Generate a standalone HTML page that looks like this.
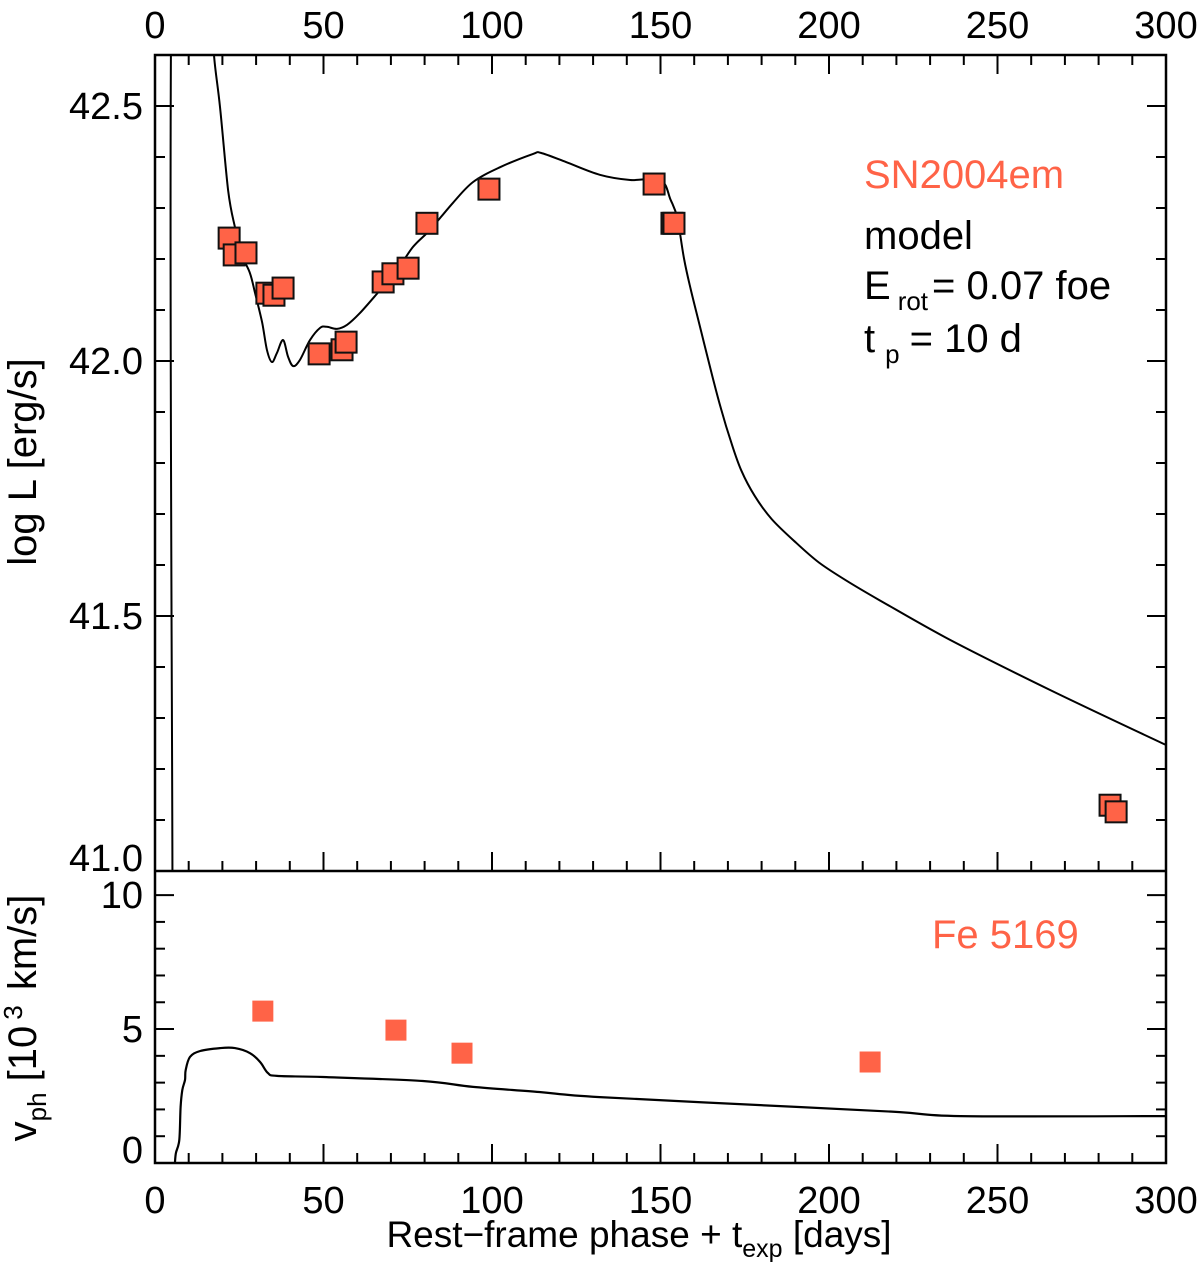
<!DOCTYPE html>
<html><head><meta charset="utf-8">
<style>
html,body{margin:0;padding:0;background:#fff;}
svg{display:block;font-family:"Liberation Sans",Arial,sans-serif;}
</style></head>
<body>
<svg id="chart" width="1200" height="1277" viewBox="0 0 1200 1277" xmlns="http://www.w3.org/2000/svg"></svg>
<script>
// ---- data ----
const lumModelDays = [5.2,5.6,17.0,17.5,19.3,21.7,23.7,26.1,28.2,29.7,31.8,33.2,34.7,36.2,38.0,39.5,41.0,43.0,46.0,49.0,51.0,54.0,57.0,60.8,66.8,71.8,76.6,81.6,88.4,94.4,102.4,112.2,114.5,122,132,141,150,153,155,157,159,162,165,168,171,174,178,183,190,197,205,215,236,265.6,300];
const lumModelLogL = [40.9,43.0,42.7,42.6,42.498,42.335,42.263,42.204,42.172,42.133,42.075,42.022,41.998,42.016,42.041,42.008,41.99,42.002,42.041,42.065,42.067,42.063,42.071,42.094,42.139,42.178,42.224,42.257,42.31,42.351,42.38,42.406,42.408,42.39,42.365,42.355,42.355,42.316,42.28,42.2,42.14,42.06,41.98,41.905,41.84,41.785,41.735,41.69,41.645,41.605,41.57,41.531,41.453,41.355,41.247];
const lumObsDays = [22.0,23.5,27.0,33.2,35.3,38.0,48.7,55.5,56.7,67.7,70.6,75.1,80.7,99.1,148.1,153.4,154.0,283.4,285.2];
const lumObsLogL = [42.241,42.208,42.212,42.133,42.129,42.143,42.014,42.022,42.037,42.155,42.171,42.182,42.27,42.337,42.347,42.27,42.27,41.129,41.116];
const velModelDays = [5.9,6.2,7.2,7.6,8.1,8.9,9.1,10.4,13.4,19.3,23.7,28.2,31.2,33.5,36.2,49.9,79.5,94.4,114,132,191,221,239,300];
const velModelV = [0,0.37,0.86,2.09,2.72,3.1,3.47,3.96,4.18,4.29,4.29,4.1,3.77,3.36,3.25,3.21,3.06,2.84,2.65,2.46,2.09,1.90,1.75,1.75];
const velObsDays = [32.0,71.5,91.1,212.2];
const velObsV = [5.67,4.96,4.10,3.77];
const xTicks = [0,50,100,150,200,250,300];
const lumTicks = [41.0,41.5,42.0,42.5];
const velTicks = [0,5,10];

// ---- layout ----
const X0=155, X1=1166, TOP=55, MID=871, BOT=1163;
const xS = d => X0 + (d-0)/(300-0)*(X1-X0);
const yL = v => MID - (v-41.0)/(42.6-41.0)*(MID-TOP);
const yV = v => BOT - (v-0)/(10.9-0)*(BOT-MID);
const NS='http://www.w3.org/2000/svg';
const svg=document.getElementById('chart');
function mk(tag,attrs,parent){const e=document.createElementNS(NS,tag);for(const k in attrs)e.setAttribute(k,attrs[k]);(parent||svg).appendChild(e);return e;}
function smooth(pts){
  let d='M'+pts[0][0].toFixed(1)+' '+pts[0][1].toFixed(1);
  for(let i=0;i<pts.length-1;i++){
    const p0=pts[Math.max(i-1,0)],p1=pts[i],p2=pts[i+1],p3=pts[Math.min(i+2,pts.length-1)];
    const c1x=p1[0]+(p2[0]-p0[0])/6,c1y=p1[1]+(p2[1]-p0[1])/6;
    const c2x=p2[0]-(p3[0]-p1[0])/6,c2y=p2[1]-(p3[1]-p1[1])/6;
    d+='C'+c1x.toFixed(1)+' '+c1y.toFixed(1)+' '+c2x.toFixed(1)+' '+c2y.toFixed(1)+' '+p2[0].toFixed(1)+' '+p2[1].toFixed(1);
  }
  return d;
}

const defs=mk('defs',{});
const cp1=mk('clipPath',{id:'clipTop'},defs);mk('rect',{x:X0,y:TOP,width:X1-X0,height:MID-TOP},cp1);
const cp2=mk('clipPath',{id:'clipBot'},defs);mk('rect',{x:X0,y:MID,width:X1-X0,height:BOT-MID},cp2);

// model curves
const lumPts=lumModelDays.map((t,i)=>[xS(t),yL(lumModelLogL[i])]);
const lc=mk('path',{d:smooth(lumPts),fill:'none',stroke:'#000','stroke-width':2,'clip-path':'url(#clipTop)'});


const velPts=velModelDays.map((t,i)=>[xS(t),yV(velModelV[i])]);
const vc=mk('path',{d:smooth(velPts),fill:'none',stroke:'#000','stroke-width':2.2,'clip-path':'url(#clipBot)'});



// observed points
const S=21;
lumObsDays.forEach((t,i)=>{
  const r=mk('rect',{x:xS(t)-S/2,y:yL(lumObsLogL[i])-S/2,width:S,height:S,fill:'#ff6347',stroke:'#111','stroke-width':2});
  
  
});
velObsDays.forEach((t,i)=>{
  const r=mk('rect',{x:xS(t)-S/2,y:yV(velObsV[i])-S/2,width:S,height:S,fill:'#ff6347'});
  
  
});

// frames
mk('rect',{x:X0,y:TOP,width:X1-X0,height:BOT-TOP,fill:'none',stroke:'#000','stroke-width':2.5});
mk('line',{x1:X0,y1:MID,x2:X1,y2:MID,stroke:'#000','stroke-width':2.5});

// x ticks
const tw={stroke:'#000','stroke-width':2};
for(let t=0;t<=300;t+=10){
  const x=xS(t), L=(t%50===0)?19:10;
  mk('line',Object.assign({x1:x,y1:TOP,x2:x,y2:TOP+L},tw));
  mk('line',Object.assign({x1:x,y1:MID,x2:x,y2:MID-L},tw));
  mk('line',Object.assign({x1:x,y1:BOT,x2:x,y2:BOT-L},tw));
}
xTicks.forEach(t=>{
  const a=mk('text',{x:xS(t),y:38,'font-size':38,'text-anchor':'middle'});a.textContent=t;
  
  
  const b=mk('text',{x:xS(t),y:1213,'font-size':38,'text-anchor':'middle'});b.textContent=t;
  
  
});
// y ticks top
for(let k=0;k<=16;k++){
  const v=41.0+k*0.1, y=yL(v), L=(k%5===0)?19:10;
  mk('line',Object.assign({x1:X0,y1:y,x2:X0+L,y2:y},tw));
  mk('line',Object.assign({x1:X1,y1:y,x2:X1-L,y2:y},tw));
}
lumTicks.forEach(v=>{
  const yy=Math.min(yL(v)+13,MID);
  const a=mk('text',{x:143,y:yy,'font-size':38,'text-anchor':'end'});a.textContent=v.toFixed(1);
  
  
});
// y ticks bottom
for(let k=0;k<=10;k++){
  const y=yV(k), L=(k%5===0)?19:10;
  mk('line',Object.assign({x1:X0,y1:y,x2:X0+L,y2:y},tw));
  mk('line',Object.assign({x1:X1,y1:y,x2:X1-L,y2:y},tw));
}
velTicks.forEach(v=>{
  const yy=Math.min(yV(v)+13,BOT);
  const a=mk('text',{x:143,y:yy,'font-size':38,'text-anchor':'end'});a.textContent=v;
  
  
});
</script>
<svg style="position:absolute;left:0;top:0" width="1200" height="1277">
  <g font-family="Liberation Sans, Arial, sans-serif" font-size="40">
    <text x="864" y="188" fill="#ff6347">SN2004em</text>
    <text x="864" y="249" fill="#000">model</text>
    <text x="864" y="299" fill="#000">E<tspan font-size="26" dx="7" dy="11">rot</tspan><tspan dx="4" dy="-11">= 0.07 foe</tspan></text>
    <text x="864" y="352" fill="#000">t<tspan font-size="26" dx="10" dy="11">p</tspan><tspan dx="10" dy="-11">= 10 d</tspan></text>
    <text x="932" y="948" fill="#ff6347">Fe 5169</text>
    <text x="639" y="1247" text-anchor="middle" font-size="37">Rest−frame phase + t<tspan font-size="25" dy="10">exp</tspan><tspan dy="-10"> [days]</tspan></text>
    <text transform="translate(36,462) rotate(-90)" text-anchor="middle" font-size="40">log L [erg/s]</text>
    <text transform="translate(36,1018) rotate(-90)" text-anchor="middle" font-size="40">v<tspan font-size="26" dy="10">ph</tspan><tspan dy="-10"> [10</tspan><tspan font-size="26" dx="6" dy="-14">3</tspan><tspan dx="4" dy="14"> km/s]</tspan></text>
  </g>
</svg>
</body></html>
